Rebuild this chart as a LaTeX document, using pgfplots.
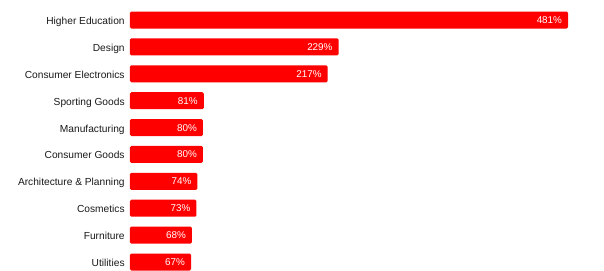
\documentclass[border=0pt]{standalone}
\usepackage{fontspec}
\setmainfont{Liberation Sans}
\usepackage{pgfplots}
\pgfplotsset{compat=1.18}
\begin{document}
\begin{tikzpicture}
\begin{axis}[
 scale only axis, width=355.5pt, height=202.5pt,
 xmin=0, xmax=520.5, ymin=-0.744, ymax=9.297, y dir=reverse,
 xbar, bar width=12.75pt,
 axis line style={draw=none},
 xtick=\empty, ytick={0,...,9},
 yticklabels={Higher Education, Design, Consumer Electronics, Sporting Goods, Manufacturing, Consumer Goods, Architecture \& Planning, Cosmetics, Furniture, Utilities},
 major tick length=0pt,
 /pgf/number format/assume math mode=true,
 yticklabel style={font=\fontsize{7.65}{9}\selectfont, text=black!90, xshift=-0.5pt, text height=5.5pt, text depth=0pt, yshift=-0.6pt},
 nodes near coords={\pgfmathprintnumber{\pgfplotspointmeta}\%},
 point meta=x,
 nodes near coords style={anchor=east, text=white, font=\fontsize{7.4}{9}\selectfont, xshift=-1pt, text height=5.3pt, text depth=0pt},
 clip=false,
]
\addplot[fill=red, draw=none, rounded corners=1pt] coordinates {(481,0) (229,1) (217,2) (81,3) (80,4) (80,5) (74,6) (73,7) (68,8) (67,9)};
\coordinate (A) at (rel axis cs:0,0);
\coordinate (B) at (rel axis cs:1,1);
\end{axis}
\pgfresetboundingbox
\path (A) ++(-97.5pt,0) rectangle (B);
\end{tikzpicture}
\end{document}
